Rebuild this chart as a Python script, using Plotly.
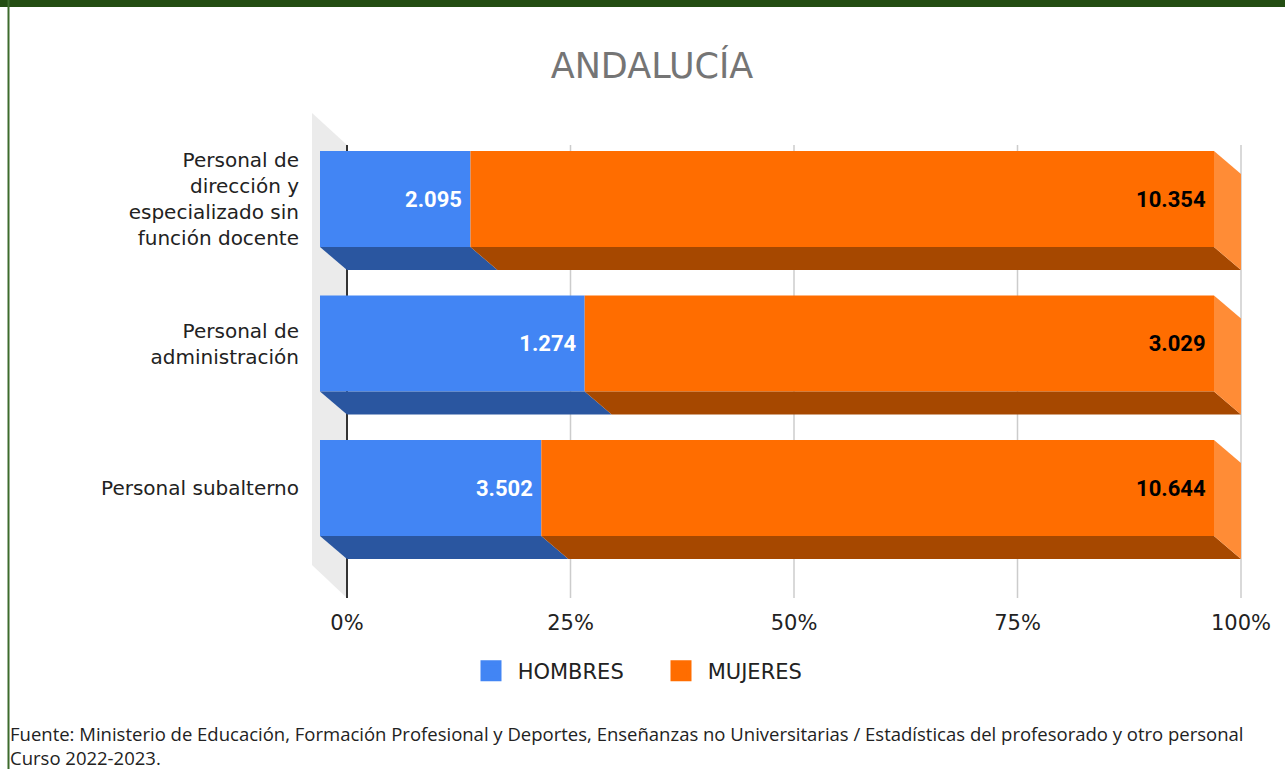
import plotly.graph_objects as go

# ---------------- data ----------------
categories = [
    "Personal de<br>dirección y<br>especializado sin<br>función docente",
    "Personal de<br>administración",
    "Personal subalterno",
]
series_names = ["HOMBRES", "MUJERES"]
hombres = [2095, 1274, 3502]
mujeres = [10354, 3029, 10644]
tick_vals = [0, 25, 50, 75, 100]
tick_text = ["0%", "25%", "50%", "75%", "100%"]
title_text = "ANDALUCÍA"
source_lines = [
    "Fuente: Ministerio de Educación, Formación Profesional y Deportes, Enseñanzas no Universitarias / Estadísticas del profesorado y otro personal",
    "Curso 2022-2023.",
]

# ---------------- style / geometry ----------------
W_FIG, H_FIG = 1285, 769
C_FRONT = ["#4285F4", "#FF6D00"]
C_BOTTOM = ["#2A56A0", "#A64800"]
C_SIDE = "#FF8C36"
C_WALL = "#EBEBEB"
C_GRID = "#CCCCCC"
C_AXIS = "#333333"
C_TEXT = "#222222"
SANS = "DejaVu Sans"

PX_PER_PCT = 8.94          # pixels per percent
X0_PX = 347                # pixel of 0 %
PX_PER_CAT = 144.5         # pixels per category
Y0_PX = 222                # pixel of first category (back plane)
PLOT_L, PLOT_R, PLOT_T, PLOT_B = 300, 1260, 100, 600

DX = 27 / PX_PER_PCT       # 3-D depth (x)
DY = 23 / PX_PER_CAT       # 3-D depth (y)
BW = 96 / PX_PER_CAT       # bar thickness

x_range = [(PLOT_L - X0_PX) / PX_PER_PCT, (PLOT_R - X0_PX) / PX_PER_PCT]
y_range = [(PLOT_B - Y0_PX) / PX_PER_CAT, (PLOT_T - Y0_PX) / PX_PER_CAT]

def fmt(v):
    return f"{v:,}".replace(",", ".")

totals = [h + m for h, m in zip(hombres, mujeres)]
pct_h = [h / t * 100 for h, t in zip(hombres, totals)]
pct_m = [m / t * 100 for m, t in zip(mujeres, totals)]
idx = list(range(len(categories)))
y_front = [i - DY for i in idx]

fig = go.Figure()

# front faces (bars)
fig.add_trace(go.Bar(
    y=y_front, x=pct_h, base=[-DX] * len(idx), orientation="h", width=BW,
    marker=dict(color=C_FRONT[0], line=dict(width=0)),
    text=[fmt(v) + "\u00a0" for v in hombres], textposition="inside",
    insidetextanchor="end", textangle=0,
    textfont=dict(family="Roboto", size=22, color="white", weight="bold"),
    name=series_names[0], showlegend=False,
    customdata=hombres, hovertemplate="%{customdata}<extra>HOMBRES</extra>",
))
fig.add_trace(go.Bar(
    y=y_front, x=pct_m, base=[p - DX for p in pct_h], orientation="h", width=BW,
    marker=dict(color=C_FRONT[1], line=dict(width=0)),
    text=[fmt(v) + "\u00a0" for v in mujeres], textposition="inside",
    insidetextanchor="end", textangle=0,
    textfont=dict(family="Roboto", size=22, color="black", weight="bold"),
    name=series_names[1], showlegend=False,
    customdata=mujeres, hovertemplate="%{customdata}<extra>MUJERES</extra>",
))

# depth faces (bottom + right side), computed from the data
for i, ph in zip(idx, pct_h):
    fb = i - DY + BW / 2
    bb = i + BW / 2
    segs = [(0, ph), (ph, 100)]
    for k, (a, b) in enumerate(segs):
        fig.add_trace(go.Scatter(
            x=[a - DX, b - DX, b, a, a - DX], y=[fb, fb, bb, bb, fb],
            mode="lines", fill="toself", fillcolor=C_BOTTOM[k],
            line=dict(width=0, color=C_BOTTOM[k]), hoverinfo="skip", showlegend=False,
        ))
    ft = i - DY - BW / 2
    bt = i - BW / 2
    fig.add_trace(go.Scatter(
        x=[100 - DX, 100, 100, 100 - DX, 100 - DX], y=[ft, bt, bb, fb, ft],
        mode="lines", fill="toself", fillcolor=C_SIDE,
        line=dict(width=0, color=C_SIDE), hoverinfo="skip", showlegend=False,
    ))

# legend entries
for name, col in zip(series_names, C_FRONT):
    fig.add_trace(go.Scatter(
        x=[None], y=[None], mode="markers", name="\u00a0" + name,
        marker=dict(symbol="square", size=16, color=col, line=dict(color=col, width=5)),
    ))

# ---------------- background frame (3-D wall + grid) ----------------
grid_top = (145 - Y0_PX) / PX_PER_CAT
grid_bot = (598 - Y0_PX) / PX_PER_CAT
wall_dx = 35 / PX_PER_PCT
wall_top_l = (113 - Y0_PX) / PX_PER_CAT
wall_bot_l = (565 - Y0_PX) / PX_PER_CAT

shapes = [
    dict(type="path", xref="x", yref="y", layer="below",
         path=f"M{-wall_dx},{wall_top_l} L0,{grid_top} L0,{grid_bot} L{-wall_dx},{wall_bot_l} Z",
         fillcolor=C_WALL, line=dict(width=0)),
]
for v in tick_vals:
    shapes.append(dict(type="line", xref="x", yref="y", layer="below",
                       x0=v, x1=v, y0=grid_top, y1=grid_bot,
                       line=dict(color=C_AXIS if v == 0 else C_GRID,
                                 width=2 if v == 0 else 1.5)))
# page frame: green top band + left border
shapes.append(dict(type="rect", xref="paper", yref="paper", x0=0, x1=1,
                   y0=1 - 7 / H_FIG, y1=1, fillcolor="#234D12", line=dict(width=0)))
shapes.append(dict(type="line", xref="paper", yref="paper", x0=8.5 / W_FIG, x1=8.5 / W_FIG,
                   y0=0, y1=1, line=dict(color="#3D6B2C", width=2)))

annotations = [
    dict(text="<br>".join(source_lines), xref="paper", yref="paper", x=8 / W_FIG, y=-3 / H_FIG,
         xanchor="left", yanchor="bottom", align="left", showarrow=False,
         font=dict(family="Open Sans", size=18.5, color=C_TEXT)),
]

fig.update_layout(
    template="none",
    width=W_FIG, height=H_FIG,
    margin=dict(l=0, r=0, t=0, b=0, pad=0, autoexpand=False),
    paper_bgcolor="white", plot_bgcolor="rgba(0,0,0,0)",
    barmode="overlay",
    title=dict(text=title_text, x=652 / W_FIG, xanchor="center", y=1 - 66 / H_FIG,
               yanchor="middle", font=dict(family=SANS, size=35, color="#757575")),
    xaxis=dict(domain=[PLOT_L / W_FIG, PLOT_R / W_FIG], range=x_range, automargin=False,
               showgrid=False, zeroline=False, showline=False, ticks="",
               tickvals=tick_vals, ticktext=tick_text, ticklabelstandoff=8,
               tickfont=dict(family=SANS, size=21, color=C_TEXT)),
    yaxis=dict(domain=[1 - PLOT_B / H_FIG, 1 - PLOT_T / H_FIG], range=y_range, automargin=False,
               showgrid=False, zeroline=False, showline=False, ticks="",
               tickvals=y_front, ticktext=categories,
               tickfont=dict(family=SANS, size=20, color=C_TEXT)),
    legend=dict(orientation="h", x=471 / W_FIG, xanchor="left", y=1 - 671 / H_FIG,
                yanchor="middle", itemsizing="trace", entrywidth=145,
                bgcolor="rgba(0,0,0,0)",
                font=dict(family=SANS, size=21, color=C_TEXT)),
    shapes=shapes, annotations=annotations,
    showlegend=True,
)

fig.write_html("out.html", config={"displayModeBar": False},
               post_script="document.body.style.margin='0';")
